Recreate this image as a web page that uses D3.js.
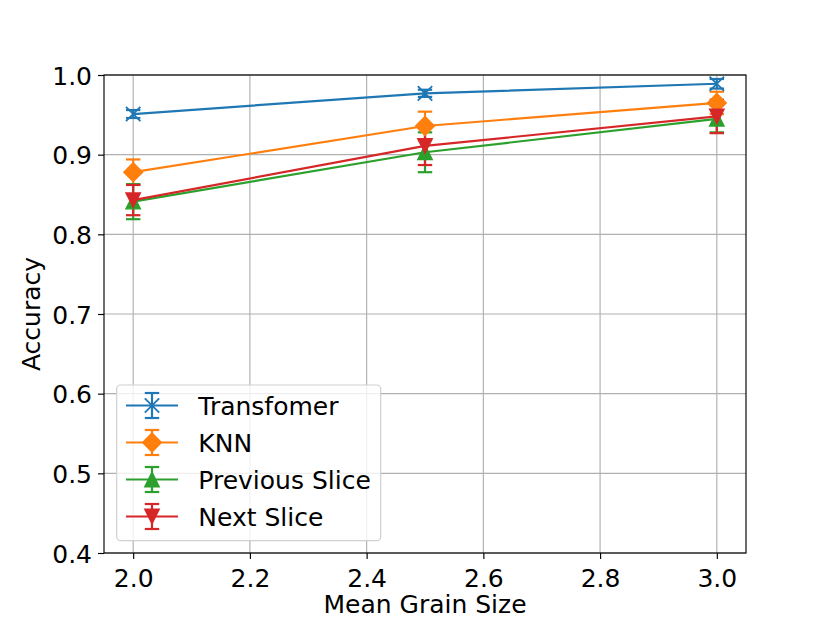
<!DOCTYPE html>
<html>
<head>
<meta charset="utf-8">
<script src="https://cdn.jsdelivr.net/npm/d3@7"></script>
<style>
  body { margin: 0; background: #fff; }
  svg { display: block; font-family: "DejaVu Sans", sans-serif; }
</style>
</head>
<body>
<svg id="chart" width="830" height="622"></svg>
<script>
// values
var grainSizes = [2.0, 2.5, 3.0];
var seriesNames = ['Transfomer', 'KNN', 'Previous Slice', 'Next Slice'];
var transformerAcc = [0.951, 0.977, 0.989];
var transformerErr = [0.005, 0.0045, 0.006];
var knnAcc = [0.878, 0.936, 0.965];
var knnErr = [0.016, 0.018, 0.014];
var prevAcc = [0.841, 0.903, 0.945];
var prevErr = [0.022, 0.025, 0.017];
var nextAcc = [0.843, 0.911, 0.948];
var nextErr = [0.019, 0.024, 0.021];
var xTicks = [2.0, 2.2, 2.4, 2.6, 2.8, 3.0];
var yTicks = [0.4, 0.5, 0.6, 0.7, 0.8, 0.9, 1.0];

var series = [
    { name: seriesNames[0], acc: transformerAcc, err: transformerErr, color: '#1f77b4', marker: 'x' },
    { name: seriesNames[1], acc: knnAcc, err: knnErr, color: '#ff7f0e', marker: 'D' },
    { name: seriesNames[2], acc: prevAcc, err: prevErr, color: '#2ca02c', marker: '^' },
    { name: seriesNames[3], acc: nextAcc, err: nextErr, color: '#d62728', marker: 'v' }
];

var plotLeft = 104, plotRight = 746, plotTop = 75, plotBottom = 553;
var fontSize = 25;
var lineW = 2.2;
var capHalf = 7.2;

var svg = d3.select('#chart');

var x = d3.scaleLinear().domain([1.95, 3.05]).range([plotLeft, plotRight]);
var y = d3.scaleLinear().domain([0.4, 1.0]).range([plotBottom, plotTop]);

// grid
var grid = svg.append('g').attr('class', 'grid');
grid.selectAll('line.gx').data(xTicks).enter().append('line')
    .attr('x1', d => x(d)).attr('x2', d => x(d))
    .attr('y1', plotTop).attr('y2', plotBottom)
    .attr('stroke', '#b0b0b0').attr('stroke-width', 1.15);
grid.selectAll('line.gy').data(yTicks).enter().append('line')
    .attr('x1', plotLeft).attr('x2', plotRight)
    .attr('y1', d => y(d)).attr('y2', d => y(d))
    .attr('stroke', '#b0b0b0').attr('stroke-width', 1.15);

// axes
var xAxis = svg.append('g')
    .attr('transform', 'translate(0,' + plotBottom + ')')
    .call(d3.axisBottom(x).tickValues(xTicks).tickFormat(d3.format('.1f')).tickSize(6).tickSizeOuter(0));
var yAxis = svg.append('g')
    .attr('transform', 'translate(' + plotLeft + ',0)')
    .call(d3.axisLeft(y).tickValues(yTicks).tickFormat(d3.format('.1f')).tickSize(6).tickSizeOuter(0));

[xAxis, yAxis].forEach(function (ax) {
    ax.select('.domain').remove();
    ax.selectAll('.tick line').attr('stroke', '#000').attr('stroke-width', 1.15);
    ax.selectAll('.tick text')
        .attr('fill', '#000')
        .style('font-family', '"DejaVu Sans", sans-serif')
        .style('font-size', fontSize + 'px');
});
xAxis.selectAll('.tick text').attr('y', 16).attr('dy', '0.71em');
yAxis.selectAll('.tick text').attr('x', -12).attr('dy', '0.36em');

// marker drawing
function drawMarker(g, type, cx, cy, color) {
    if (type === 'x') {
        var h = 7.2;
        g.append('path')
            .attr('d', 'M' + (cx - h) + ',' + (cy - h) + 'L' + (cx + h) + ',' + (cy + h) +
                'M' + (cx - h) + ',' + (cy + h) + 'L' + (cx + h) + ',' + (cy - h))
            .attr('stroke', color).attr('stroke-width', 1.8).attr('fill', 'none');
    } else if (type === 'D') {
        var r = 9.4;
        g.append('path')
            .attr('d', 'M' + cx + ',' + (cy - r) + 'L' + (cx + r) + ',' + cy + 'L' + cx + ',' + (cy + r) +
                'L' + (cx - r) + ',' + cy + 'Z')
            .attr('fill', color).attr('stroke', color).attr('stroke-width', 1.4);
    } else {
        var t = 7.2;
        var s = type === '^' ? 1 : -1;
        g.append('path')
            .attr('d', 'M' + cx + ',' + (cy - s * t) + 'L' + (cx + t) + ',' + (cy + s * t) +
                'L' + (cx - t) + ',' + (cy + s * t) + 'Z')
            .attr('fill', color).attr('stroke', color).attr('stroke-width', 1.4);
    }
}

function drawErrorBar(g, cx, y0, y1, color) {
    g.append('line')
        .attr('x1', cx).attr('x2', cx).attr('y1', y0).attr('y2', y1)
        .attr('stroke', color).attr('stroke-width', lineW);
    [y0, y1].forEach(function (cy) {
        g.append('line')
            .attr('x1', cx - capHalf).attr('x2', cx + capHalf).attr('y1', cy).attr('y2', cy)
            .attr('stroke', color).attr('stroke-width', lineW);
    });
}

// error bars first, data lines and markers on top
var errGroup = svg.append('g').attr('class', 'errorbars');
series.forEach(function (s) {
    grainSizes.forEach(function (gs, i) {
        drawErrorBar(errGroup, x(gs), y(s.acc[i] + s.err[i]), y(s.acc[i] - s.err[i]), s.color);
    });
});

var line = d3.line().x(d => x(d[0])).y(d => y(d[1]));
var dataGroup = svg.append('g').attr('class', 'data');
series.forEach(function (s) {
    var pts = grainSizes.map((gs, i) => [gs, s.acc[i]]);
    var g = dataGroup.append('g');
    g.append('path')
        .attr('d', line(pts))
        .attr('fill', 'none')
        .attr('stroke', s.color)
        .attr('stroke-width', lineW);
    pts.forEach(function (p) {
        drawMarker(g, s.marker, x(p[0]), y(p[1]), s.color);
    });
});

// spines
svg.append('rect')
    .attr('x', plotLeft).attr('y', plotTop)
    .attr('width', plotRight - plotLeft).attr('height', plotBottom - plotTop)
    .attr('fill', 'none').attr('stroke', '#000').attr('stroke-width', 1.15);

// axis labels
svg.append('text')
    .attr('x', (plotLeft + plotRight) / 2).attr('y', 612.5)
    .attr('text-anchor', 'middle')
    .style('font-size', fontSize + 'px')
    .text('Mean Grain Size');
svg.append('text')
    .attr('transform', 'translate(40,' + (plotTop + plotBottom) / 2 + ') rotate(-90)')
    .attr('text-anchor', 'middle')
    .style('font-size', fontSize + 'px')
    .text('Accuracy');

// legend
var legend = svg.append('g').attr('class', 'legend');
legend.append('rect')
    .attr('x', 116.7).attr('y', 385)
    .attr('width', 264).attr('height', 155.7)
    .attr('rx', 4).attr('ry', 4)
    .attr('fill', '#fff').attr('fill-opacity', 0.8)
    .attr('stroke', '#d0d0d0').attr('stroke-width', 1.2);

series.forEach(function (s, i) {
    var cy = 405.5 + i * 37;
    var g = legend.append('g');
    g.append('line')
        .attr('x1', 126).attr('x2', 178).attr('y1', cy).attr('y2', cy)
        .attr('stroke', s.color).attr('stroke-width', lineW);
    drawErrorBar(g, 152, cy - 12.5, cy + 12.5, s.color);
    drawMarker(g, s.marker, 152, cy, s.color);
    g.append('text')
        .attr('x', 198.3).attr('y', cy)
        .attr('dy', '0.36em')
        .style('font-size', fontSize + 'px')
        .text(s.name);
});
</script>
</body>
</html>
